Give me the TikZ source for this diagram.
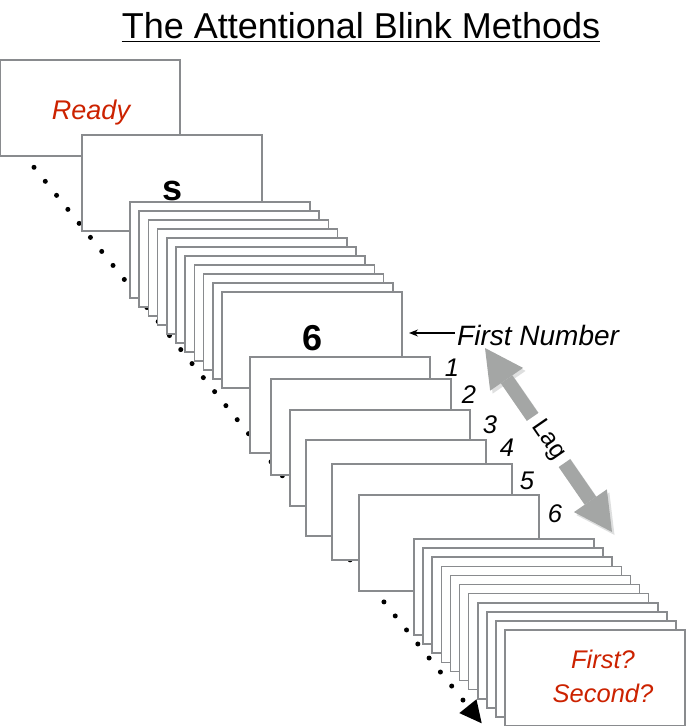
\documentclass[tikz,border=0pt]{standalone}
\usepackage{fontspec}
\setmainfont{Liberation Sans}
\usetikzlibrary{arrows.meta,calc}
\definecolor{boxgray}{RGB}{137,139,142}
\definecolor{laggray}{RGB}{164,166,165}
\definecolor{shadowgray}{RGB}{222,223,223}
\definecolor{rtext}{RGB}{204,34,0}
\begin{document}
\begin{tikzpicture}[x=1pt,y=-1pt,
  card/.style={draw=boxgray, fill=white, line width=1.6pt, minimum width=180pt, minimum height=96pt, anchor=north west, inner sep=0pt, outer sep=0pt},
  redtxt/.style={text=rtext, font=\fontsize{27}{30}\selectfont\itshape, inner sep=0pt, anchor=base},
  redtxtsm/.style={text=rtext, font=\fontsize{25.5}{28}\selectfont\itshape, inner sep=0pt, anchor=base},
  bigtxt/.style={font=\fontsize{36}{40}\selectfont\bfseries, inner sep=0pt, anchor=base},
  numtxt/.style={font=\fontsize{25.5}{28}\selectfont\itshape, inner sep=0pt, anchor=base},
  dotline/.style={line width=5pt, line cap=round, dash pattern=on 0pt off 18pt},
  lagarrow/.style={draw=laggray, line width=14pt, {Triangle[length=38pt,width=40pt,line width=0pt]}-{Triangle[length=38pt,width=40pt,line width=0pt]}},
  lagshadow/.style={draw=shadowgray, line width=14pt, {Triangle[length=38pt,width=40pt,line width=0pt]}-{Triangle[length=38pt,width=40pt,line width=0pt]}},
  fnarrow/.style={line width=1.3pt, -{Stealth[length=9pt,width=7pt]}}
]
\useasboundingbox (0,0) rectangle (686,726);

% title
\node[font=\fontsize{36}{40}\selectfont, inner sep=0pt, anchor=base] (title) at (361,38) {The Attentional Blink Methods};
\draw[line width=1.3pt] ($(title.base west)+(0,3.5)$) -- ($(title.base east)+(0,3.5)$);

% dotted time line
\coordinate (dstart) at (34,167.3);
\coordinate (dbase) at (468,706.3);
\coordinate (dtip) at (481.7,723.3);
\draw[dotline] (dstart) -- (dbase);
\draw[line width=0.1pt, -{Triangle[length=22pt,width=22pt,line width=0pt]}] (dbase) -- (dtip);

% first frames
\node[card] (ready) at (0,60) {};
\node[redtxt] at (91,119) {Ready};
\node[card] (sbox) at (82,135) {};
\node[bigtxt] at (173,200) {s};

% first stack
\foreach \i in {0,...,9} {
  \node[card] (a\i) at (130+9.2*\i, 202+9*\i) {};
}
\node[card] (six) at (222,292) {};
\node[bigtxt] at (313,350) {6};

% lag frames
\node[card] (l1) at (250,357) {};
\node[card] (l2) at (271,379) {};
\node[card] (l3) at (290,410) {};
\node[card] (l4) at (306,440) {};
\node[card] (l5) at (332,464) {};
\node[card] (l6) at (359,495) {};
\node[numtxt] at (452,376.5) {1};
\node[numtxt] at (469,403) {2};
\node[numtxt] at (490,433) {3};
\node[numtxt] at (507,456) {4};
\node[numtxt] at (527,489) {5};
\node[numtxt] at (555,522) {6};

% second stack
\foreach \i in {0,...,9} {
  \node[card] (b\i) at (414+9.1*\i, 539+9.1*\i) {};
}
\node[card] (final) at (505,630) {};
\node[redtxtsm] at (603,668) {First?};
\node[redtxtsm] at (603,702) {Second?};

% first number label
\node[font=\fontsize{28}{30}\selectfont\itshape, inner sep=0pt, anchor=base west] (fn) at (457,345) {First Number};
\coordinate (fnstart) at (455,333);
\coordinate (fnend) at ($(fnstart -| six.east)+(7,0)$);
\draw[fnarrow] (fnstart) -- (fnend);

% lag arrow with soft shadow
\coordinate (lagA) at (485,348);
\coordinate (lagB) at (612,532);
\coordinate (lagAs) at ($(lagA)+(2.5,3)$);
\coordinate (lagBs) at ($(lagB)+(2.5,3)$);
\draw[lagshadow] (lagAs) -- (lagBs);
\draw[lagarrow] (lagA) -- (lagB);
\node[rotate=-55.4, fill=white, inner xsep=7pt, inner ysep=0pt, font=\fontsize{25}{28}\selectfont] (lag) at ($(lagA)!0.5!(lagB)$) {Lag};
\end{tikzpicture}
\end{document}
